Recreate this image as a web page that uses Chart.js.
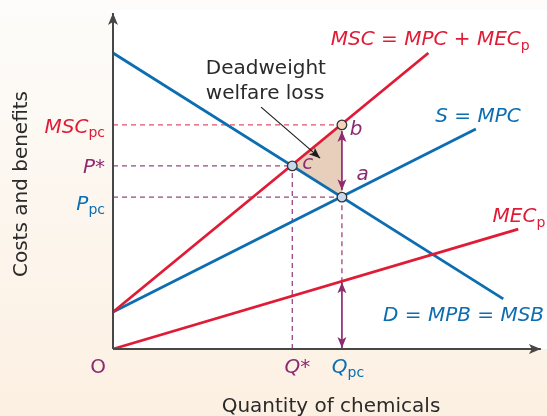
<!DOCTYPE html>
<html>
<head>
<meta charset="utf-8">
<script src="https://cdn.jsdelivr.net/npm/chart.js@4.4.1/dist/chart.umd.min.js"></script>
<style>
  html, body { margin: 0; padding: 0; background: #fdf6ec; }
  #wrap { width: 547px; height: 416px; }
</style>
</head>
<body>
<div id="wrap"><canvas id="externality" width="547" height="416"></canvas></div>
<script>
// Quantity of chemicals (x) and costs/benefits (y), both on a 0..100 scale
const demandCurve = [{x: 0, y: 88.1}, {x: 91.2, y: 14.9}];   // D = MPB = MSB
const supplyCurve = [{x: 0, y: 11.0}, {x: 84.8, y: 65.5}];   // S = MPC
const mscCurve    = [{x: 0, y: 11.0}, {x: 73.7, y: 88.1}];   // MSC = MPC + MEC
const mecCurve    = [{x: 0, y: 0},    {x: 94.7, y: 35.7}];   // MEC

const qStar = 41.9, qPc = 53.5;
const pStar = 54.5, pPc = 45.2, mscPc = 66.7, mecPc = 19.9;

const priceTicks = [
  { value: mscPc, main: "MSC", sub: "pc" },
  { value: pStar, main: "P*",  sub: "" },
  { value: pPc,   main: "P",   sub: "pc" }
];
const quantityTicks = [
  { value: qStar, main: "Q*", sub: "" },
  { value: qPc,   main: "Q",  sub: "pc" }
];

const RED = "#e01b36", BLUE = "#0c6db1", PURPLE = "#8d2b70", INK = "#2a2a2a";
const FAM = '"DejaVu Sans"';

function arrowHead(ctx, x, y, ang, len, half) {
  const c = Math.cos(ang), s = Math.sin(ang);
  ctx.beginPath();
  ctx.moveTo(x, y);
  ctx.lineTo(x - len * c + half * s, y - len * s - half * c);
  ctx.lineTo(x - len * 0.75 * c, y - len * 0.75 * s);
  ctx.lineTo(x - len * c - half * s, y - len * s + half * c);
  ctx.closePath();
  ctx.fill();
}

function arrow(ctx, x1, y1, x2, y2, color, width, both, len, half) {
  const ang = Math.atan2(y2 - y1, x2 - x1);
  ctx.save();
  ctx.strokeStyle = color; ctx.fillStyle = color; ctx.lineWidth = width;
  ctx.beginPath(); ctx.moveTo(x1, y1); ctx.lineTo(x2, y2); ctx.stroke();
  arrowHead(ctx, x2, y2, ang, len || 11, half || 4.5);
  if (both) arrowHead(ctx, x1, y1, ang + Math.PI, len || 11, half || 4.5);
  ctx.restore();
}

function text(ctx, parts, x, y, align) {
  ctx.save();
  ctx.textBaseline = "alphabetic";
  ctx.textAlign = "left";
  const w = parts.map(p => { ctx.font = p.font; return ctx.measureText(p.t).width; });
  const total = w.reduce((s, v) => s + v, 0);
  let cx = align === "right" ? x - total : align === "center" ? x - total / 2 : x;
  parts.forEach((p, i) => {
    ctx.font = p.font; ctx.fillStyle = p.color;
    ctx.fillText(p.t, cx, y + (p.dy || 0));
    cx += w[i];
  });
  ctx.restore();
}

const IT = "italic 20px " + FAM, UP = "20px " + FAM, SUB = "14px " + FAM;

const diagram = {
  id: "diagram",
  beforeDraw(chart) {
    const { ctx, chartArea: a, width, height } = chart;
    const g = ctx.createLinearGradient(0, 0, 0, height);
    g.addColorStop(0, "#fdfcfa");
    g.addColorStop(1, "#fcf0e2");
    ctx.save();
    ctx.fillStyle = g;
    ctx.fillRect(0, 0, width, height);
    ctx.fillStyle = "#ffffff";
    ctx.fillRect(a.left, 10, width - a.left, a.bottom - 10);
    ctx.restore();
  },
  afterDatasetsDraw(chart) {
    const { ctx, chartArea: a, scales } = chart;
    const X = v => scales.x.getPixelForValue(v), Y = v => scales.y.getPixelForValue(v);

    // axes
    arrow(ctx, a.left, a.bottom, a.left, a.top, "#474747", 2, false, 12, 5);
    arrow(ctx, a.left, a.bottom, a.right, a.bottom, "#474747", 2, false, 12, 5);

    // vertical gaps: b to a, and MEC at Qpc
    arrow(ctx, X(qPc), Y(mscPc) + 6, X(qPc), Y(pPc) - 7, PURPLE, 1.7, true);
    arrow(ctx, X(qPc), Y(mecPc), X(qPc), Y(0) - 1, PURPLE, 1.7, true);

    // pointer to the deadweight loss
    arrow(ctx, X(34.6), Y(72.0), X(48.4), Y(56.8), "#1e1e1e", 1.2, false);

    // curve labels
    text(ctx, [{ t: "MSC = MPC + MEC", font: IT, color: RED }, { t: "p", font: SUB, color: RED, dy: 5 }], X(50.9), Y(90.5), "left");
    text(ctx, [{ t: "S = MPC", font: IT, color: BLUE }], X(75.3), Y(67.6), "left");
    text(ctx, [{ t: "MEC", font: IT, color: RED }, { t: "p", font: SUB, color: RED, dy: 5 }], X(88.7), Y(37.9), "left");
    text(ctx, [{ t: "D = MPB = MSB", font: IT, color: BLUE }], X(63.1), Y(8.4), "left");
    text(ctx, [{ t: "Deadweight", font: UP, color: INK }], X(21.7), Y(81.8), "left");
    text(ctx, [{ t: "welfare loss", font: UP, color: INK }], X(21.7), Y(74.5), "left");
    text(ctx, [{ t: "b", font: IT, color: PURPLE }], X(55.3), Y(63.7), "left");
    text(ctx, [{ t: "c", font: IT, color: PURPLE }], X(44.2), Y(53.6), "left");
    text(ctx, [{ t: "a", font: IT, color: PURPLE }], X(56.9), Y(50.3), "left");

    // price ticks on the left
    const tickColor = [RED, PURPLE, BLUE], tickDy = [8, 7, 13];
    priceTicks.forEach((tk, i) => {
      text(ctx, [{ t: tk.main, font: IT, color: tickColor[i] }, { t: tk.sub, font: SUB, color: tickColor[i], dy: 4 }],
        a.left - 8, Y(tk.value) + tickDy[i], "right");
    });
    // quantity ticks below
    const qColor = [PURPLE, BLUE], qDx = [5, 6];
    quantityTicks.forEach((tk, i) => {
      text(ctx, [{ t: tk.main, font: IT, color: qColor[i] }, { t: tk.sub, font: SUB, color: qColor[i], dy: 4 }],
        X(tk.value) + qDx[i], a.bottom + 24, "center");
    });
    text(ctx, [{ t: "O", font: UP, color: PURPLE }], a.left - 15, a.bottom + 24, "center");

    // axis titles
    text(ctx, [{ t: "Quantity of chemicals", font: UP, color: INK }], 331, 412, "center");
    ctx.save();
    ctx.translate(27, 184);
    ctx.rotate(-Math.PI / 2);
    text(ctx, [{ t: "Costs and benefits", font: UP, color: INK }], 0, 0, "center");
    ctx.restore();
  }
};

const guide = (data, color) => ({
  data, showLine: true, borderColor: color, borderWidth: 1.3, borderDash: [5, 4],
  pointRadius: 0, fill: false, order: 8, clip: false
});
const curve = (data, color) => ({
  data, showLine: true, borderColor: color, borderWidth: 2.8,
  pointRadius: 0, fill: false, order: 5, clip: false
});

new Chart(document.getElementById("externality"), {
  type: "scatter",
  data: {
    datasets: [
      {
        data: [{x: qStar, y: pStar}, {x: qPc, y: mscPc}, {x: qPc, y: pPc}, {x: qStar, y: pStar}],
        showLine: true, fill: "shape", backgroundColor: "#e8cfbc", borderWidth: 0,
        pointRadius: 0, order: 10
      },
      guide([{x: 0, y: mscPc}, {x: qPc, y: mscPc}], "#e2506a"),
      guide([{x: 0, y: pStar}, {x: qStar, y: pStar}], "#9a4683"),
      guide([{x: 0, y: pPc}, {x: qPc, y: pPc}], "#9a4683"),
      guide([{x: qStar, y: 0}, {x: qStar, y: pStar}], "#9a4683"),
      guide([{x: qPc, y: mecPc}, {x: qPc, y: pPc}], "#9a4683"),
      curve(mecCurve, RED),
      curve(mscCurve, RED),
      curve(supplyCurve, BLUE),
      curve(demandCurve, BLUE),
      {
        data: [{x: qStar, y: pStar}, {x: qPc, y: pPc}, {x: qPc, y: mscPc}],
        pointRadius: 4.8, pointBorderWidth: 1.3, pointBorderColor: "#333333",
        pointBackgroundColor: ["#c9d8ec", "#c9d8ec", "#f6d3bd"], order: 1, clip: false
      }
    ]
  },
  options: {
    responsive: false,
    animation: false,
    layout: { padding: { left: 113, top: 13, right: 0, bottom: 67 } },
    scales: {
      x: { type: "linear", min: 0, max: 100, display: false },
      y: { type: "linear", min: 0, max: 100, display: false }
    },
    plugins: { legend: { display: false }, tooltip: { enabled: false } }
  },
  plugins: [diagram]
});
</script>
</body>
</html>
